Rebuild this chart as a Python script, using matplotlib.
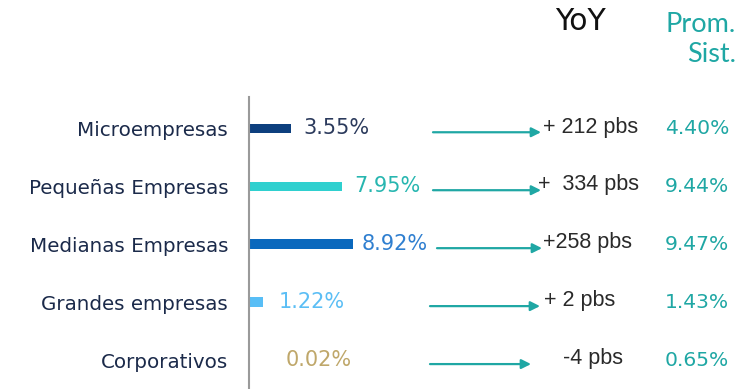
import numpy as np
import matplotlib.pyplot as plt
import matplotlib.transforms as mtransforms

# datos del gráfico
segmentos = ['Microempresas', 'Pequeñas Empresas', 'Medianas Empresas',
             'Grandes empresas', 'Corporativos']
valores = [3.55, 7.95, 8.92, 1.22, 0.02]
etiquetas = ['3.55%', '7.95%', '8.92%', '1.22%', '0.02%']
yoy = ['+ 212 pbs', '+  334 pbs', '+258 pbs', '+ 2 pbs', '-4 pbs']
prom_sist = ['4.40%', '9.44%', '9.47%', '1.43%', '0.65%']

# estilos
colores_barra = ['#0D3F7E', '#2FD0CF', '#0A68BD', '#58BEF6', '#C9B07A']
colores_texto = ['#2B3A5C', '#27B6B0', '#2F7FD0', '#5BBEF5', '#BFA76A']
teal = '#1FA7A4'
fuente = 'DejaVu Sans'
fuente_yoy = 'Liberation Sans'

fig = plt.figure(figsize=(7.51, 3.89), dpi=100)
# el eje ocupa todo el ancho; el 0 queda en el pixel 249
px_unit = 11.7
ax = fig.add_axes([0, 0, 1, 0.75])
ax.set_xlim(-249 / px_unit, (751 - 249) / px_unit)
ax.set_ylim(4.5, -0.534)

y = np.arange(len(segmentos))
ax.barh(y, valores, height=0.16, color=colores_barra)

# etiquetas de valor al final de cada barra
offsets = [9.4, 8.6, 5.8, 10.8, 26]
for i, (v, txt) in enumerate(zip(valores, etiquetas)):
    ax.annotate(txt, (v, i), xytext=(offsets[i], 0), textcoords='offset points',
                va='center', ha='left', fontsize=15, color=colores_texto[i],
                family=fuente)

# ejes
for s in ['top', 'right', 'bottom']:
    ax.spines[s].set_visible(False)
ax.spines['left'].set_position(('data', 0))
ax.spines['left'].set_color('#9A9A9A')
ax.spines['left'].set_linewidth(1.5)
ax.set_xticks([])
ax.set_yticks(y)
ax.set_yticklabels(segmentos, fontsize=14.3, family=fuente, color='#1B2A4A')
ax.tick_params(axis='y', length=0, pad=15)

# flechas y columnas YoY / Prom. Sist. (x en fracción de figura, y en datos)
tr = mtransforms.blended_transform_factory(fig.transFigure, ax.transData)
flecha_ini = [433, 433, 437, 430, 430]
flecha_fin = [541, 541, 542, 540, 531]
yoy_x = [543, 538, 543, 544, 563]
for i in range(len(segmentos)):
    ax.annotate('', xy=(flecha_fin[i] / 751, i + 0.07), xycoords=tr,
                xytext=(flecha_ini[i] / 751, i + 0.07), textcoords=tr,
                arrowprops=dict(arrowstyle='-|>', color=teal, lw=1.6,
                                mutation_scale=14, shrinkA=0, shrinkB=0))
    ax.text(yoy_x[i] / 751, i - 0.02, yoy[i], transform=tr, ha='left', va='center',
            fontsize=15.5, family=fuente_yoy, color='#2A2A2A')
    ax.text(665 / 751, i, prom_sist[i], transform=tr, ha='left', va='center',
            fontsize=14.6, family=fuente, color=teal)

# encabezados
fig.text(580 / 751, 1 - 22 / 389, 'YoY', ha='center', va='center', fontsize=21.5,
         family=fuente, color='#111111')
fig.text(736 / 751, 1 - 39 / 389, 'Prom.\nSist.', ha='right', va='center',
         fontsize=19.5, family='Lato', color=teal, linespacing=1.25,
         multialignment='right')

fig.savefig('out.png', dpi=100)
